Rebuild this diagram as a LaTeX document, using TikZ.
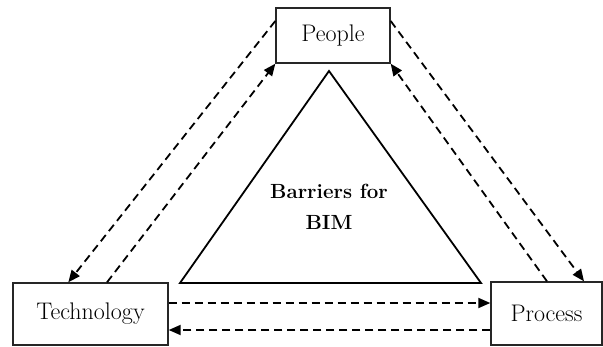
\documentclass[tikz,border=0pt]{standalone}
\usetikzlibrary{calc,arrows.meta}
\begin{document}
\begin{tikzpicture}[x=1pt,y=-1pt,
  box/.style={draw=black!85,line width=1.4pt,inner sep=0pt,font=\fontsize{24}{28}\selectfont},
  dline/.style={line width=1.8pt,dash pattern=on 8pt off 5pt,-{Triangle[length=12pt,width=10pt]}},
  tri/.style={line width=1.8pt,line join=miter}]
\useasboundingbox (0,0) rectangle (603,346);
\node[box,minimum width=114pt,minimum height=55pt] (people) at (333,35.5) {People};
\node[box,minimum width=155pt,minimum height=62pt] (tech) at (90.5,314) {Technology};
\node[box,minimum width=111pt,minimum height=63pt] (proc) at (546.5,313.5) {Process};
\draw[tri] (329,71) -- (180,283) -- (481,283) -- cycle;
\node[font=\fontsize{20.5}{31}\selectfont\bfseries,align=center] (lbl) at (329,207) {Barriers for\\BIM};
% left side
\draw[dline] ($(people.west)+(0,-14.5)$) -- ($(tech.north west)+(56,0)$);
\draw[dline] ($(tech.north)+(16.5,0)$) -- (people.south west);
% right side
\draw[dline] ($(proc.north)+(0.5,0)$) -- (people.south east);
\draw[dline] ($(people.east)+(0,-14.5)$) -- ($(proc.north)+(37.5,0)$);
% bottom
\draw[dline] ($(tech.east)+(0,-11)$) -- ($(proc.west)+(0,-10.5)$);
\draw[dline] ($(proc.west)+(0,16.5)$) -- ($(tech.east)+(0,16)$);
\end{tikzpicture}
\end{document}
